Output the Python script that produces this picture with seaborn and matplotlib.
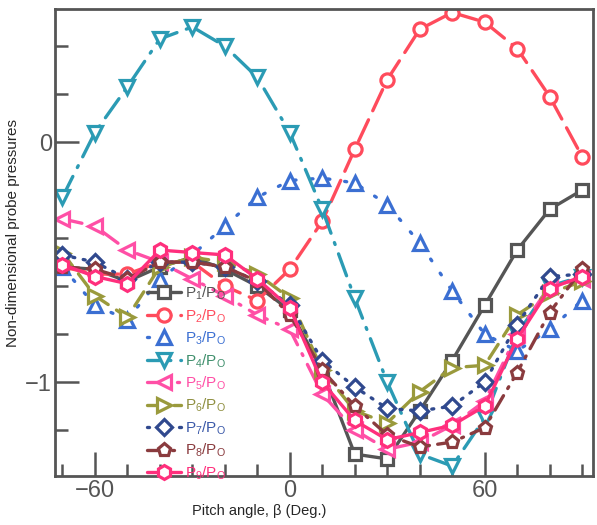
import numpy as np
import pandas as pd
import matplotlib.pyplot as plt
import seaborn as sns
from matplotlib.ticker import MultipleLocator

sns.set_style("ticks")
plt.rcParams["font.family"] = ["Liberation Sans", "DejaVu Sans"]
plt.rcParams["mathtext.fontset"] = "custom"
plt.rcParams["mathtext.rm"] = "Liberation Sans"
plt.rcParams["mathtext.it"] = "Liberation Sans:italic"

# pitch angles (deg)
pitch = list(range(-70, 91, 10))

# probe pressure ratios
p1 = [-0.52, -0.53, -0.58, -0.52, -0.48, -0.53, -0.60, -0.70, -0.95, -1.30,
      -1.32, -1.12, -0.91, -0.68, -0.45, -0.28, -0.20]
p2 = [-0.52, -0.55, -0.55, -0.50, -0.50, -0.60, -0.66, -0.53, -0.33, -0.03,
      0.26, 0.47, 0.54, 0.50, 0.39, 0.19, -0.06]
p3 = [-0.52, -0.68, -0.74, -0.57, -0.47, -0.35, -0.23, -0.16, -0.15, -0.17,
      -0.26, -0.42, -0.62, -0.80, -0.87, -0.78, -0.66]
p4 = [-0.23, 0.04, 0.23, 0.43, 0.48, 0.40, 0.27, 0.04, -0.28, -0.65,
      -1.00, -1.30, -1.35, -1.15, -0.80, -0.60, -0.56]
p5 = [-0.32, -0.35, -0.45, -0.50, -0.57, -0.64, -0.72, -0.78, -1.05, -1.20,
      -1.28, -1.25, -1.18, -1.08, -0.80, -0.60, -0.57]
p6 = [-0.46, -0.64, -0.73, -0.52, -0.48, -0.50, -0.55, -0.65, -0.95, -1.12,
      -1.17, -1.04, -0.94, -0.93, -0.72, -0.63, -0.58]
p7 = [-0.47, -0.50, -0.57, -0.50, -0.50, -0.52, -0.58, -0.68, -0.91, -1.02,
      -1.11, -1.12, -1.10, -1.00, -0.76, -0.56, -0.55]
p8 = [-0.52, -0.53, -0.57, -0.50, -0.50, -0.52, -0.58, -0.72, -0.95, -1.10,
      -1.22, -1.27, -1.25, -1.19, -0.96, -0.71, -0.53]
p9 = [-0.51, -0.56, -0.59, -0.45, -0.46, -0.47, -0.57, -0.69, -1.00, -1.16,
      -1.24, -1.21, -1.18, -1.10, -0.82, -0.61, -0.56]

labels = [r"P$_{%d}$/P$_{\mathrm{O}}$" % i for i in range(1, 10)]
series = [p1, p2, p3, p4, p5, p6, p7, p8, p9]

colors = ["#555555", "#ff4b5c", "#3b6fd2", "#2b9bb4", "#ff4fa6",
          "#9a9a3c", "#30498e", "#8a3b3e", "#ff2f7c"]
text_colors = ["#555555", "#ff4b5c", "#3b6fd2", "#3f8f6c", "#ff4fa6",
               "#8f8f40", "#3a58a8", "#8a3b3e", "#ff2f7c"]
markers = ["s", "o", "^", "v", "<", ">", "D", "p", "h"]
msizes = [8, 9.5, 9.5, 9.5, 10, 10, 8.5, 9.5, 10]
dashes = ["", (7, 3), (0.6, 4.5), (7, 3, 0.6, 3), (6, 3, 0.6, 3),
          (5, 3), (0.6, 2.6), (5, 2.5, 0.6, 2.5), ""]

df = pd.DataFrame({
    "pitch": pitch * len(series),
    "value": np.concatenate(series),
    "probe": np.repeat(labels, len(pitch)),
})

fig = plt.figure(figsize=(5.97, 5.25), dpi=100)
ax = fig.add_axes([0.092, 0.093, 0.901, 0.89])

sns.lineplot(data=df, x="pitch", y="value", hue="probe", style="probe",
             hue_order=labels, style_order=labels,
             palette=dict(zip(labels, colors)),
             dashes=dict(zip(labels, dashes)),
             markers=dict(zip(labels, markers)),
             linewidth=2.4, legend=False, sort=False, ax=ax)

for line, c, ms in zip(ax.lines, colors, msizes):
    line.set_markersize(ms)
    line.set_markeredgecolor(c)
    line.set_markerfacecolor("white")
    line.set_markeredgewidth(2.3)
    line.set_dash_capstyle("round")

ax.set_xlim(-72.3, 93.3)
ax.set_ylim(-1.392, 0.555)

ax.set_xticks([-60, 0, 60])
ax.set_yticks([-1, 0])
ax.xaxis.set_minor_locator(MultipleLocator(10))
ax.yaxis.set_minor_locator(MultipleLocator(0.2))
ax.tick_params(which="major", direction="in", length=17, width=1.8,
               color="#555555", labelsize=17, labelcolor="#555555", pad=3)
ax.tick_params(which="minor", direction="in", length=9, width=1.8,
               color="#555555")
ax.tick_params(axis="y", pad=2)
for s in ax.spines.values():
    s.set_color("#555555")
    s.set_linewidth(2)

ax.set_xlabel("Pitch angle, β (Deg.)", fontsize=10.5, labelpad=2)
ax.xaxis.set_label_coords(0.38, -0.06)
ax.set_ylabel("Non-dimensional probe pressures", fontsize=11)
ax.yaxis.set_label_coords(-0.065, 0.52)

leg = ax.legend(handles=ax.lines[:9], labels=labels, loc="lower left",
                bbox_to_anchor=(0.16, -0.025), frameon=False, numpoints=1,
                handlelength=2.2, handletextpad=0.3, labelspacing=0.33,
                fontsize=11, borderaxespad=0)
for t, c in zip(leg.get_texts(), text_colors):
    t.set_color(c)

fig.savefig("out.png", dpi=100)
